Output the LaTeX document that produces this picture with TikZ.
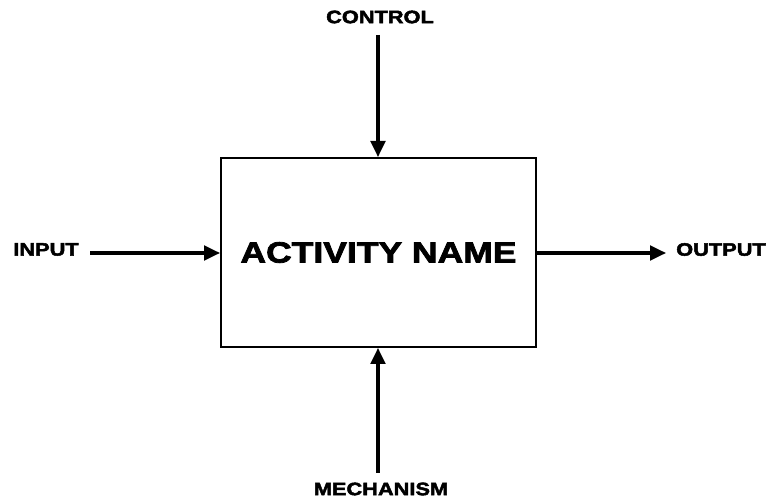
\documentclass[tikz,border=0pt]{standalone}
\usepackage{fontspec}
\newfontfamily\heavyfont{Liberation Sans Bold}[FakeBold=2.6,FakeStretch=1.21]
\usetikzlibrary{arrows.meta}
\begin{document}
\begin{tikzpicture}[x=0.75pt,y=-0.75pt,
  lbl/.style={font=\heavyfont\fontsize{13.5pt}{15pt}\selectfont, inner sep=0pt},
  act/.style={draw, line width=1.5pt, minimum width=315*0.75pt, minimum height=189*0.75pt,
              inner sep=0pt, font=\heavyfont\fontsize{22pt}{24pt}\selectfont},
  flow/.style={line width=2.3pt, -{Triangle[length=12pt,width=11pt]}}]
\useasboundingbox (0,0) rectangle (769,499);
% activity box
\node[act] (box) at (378.5,252.5) {ACTIVITY NAME};
% ICOM labels
\node[lbl] (ctl) at (380,17) {CONTROL};
\node[lbl] (inp) at (46,249.5) {INPUT};
\node[lbl] (out) at (721,249.5) {OUTPUT};
\node[lbl] (mech) at (381,489) {MECHANISM};
% free ends of the arrows
\coordinate (ctlS) at (378,35);
\coordinate (inpS) at (90,253);
\coordinate (outE) at (666,253);
\coordinate (mechS) at (378,473);
% arrows
\draw[flow] (ctlS) -- (ctlS |- box.north);
\draw[flow] (mechS) -- (mechS |- box.south);
\draw[flow] (inpS) -- (inpS -| box.west);
\draw[flow] (outE -| box.east) -- (outE);
\end{tikzpicture}
\end{document}
